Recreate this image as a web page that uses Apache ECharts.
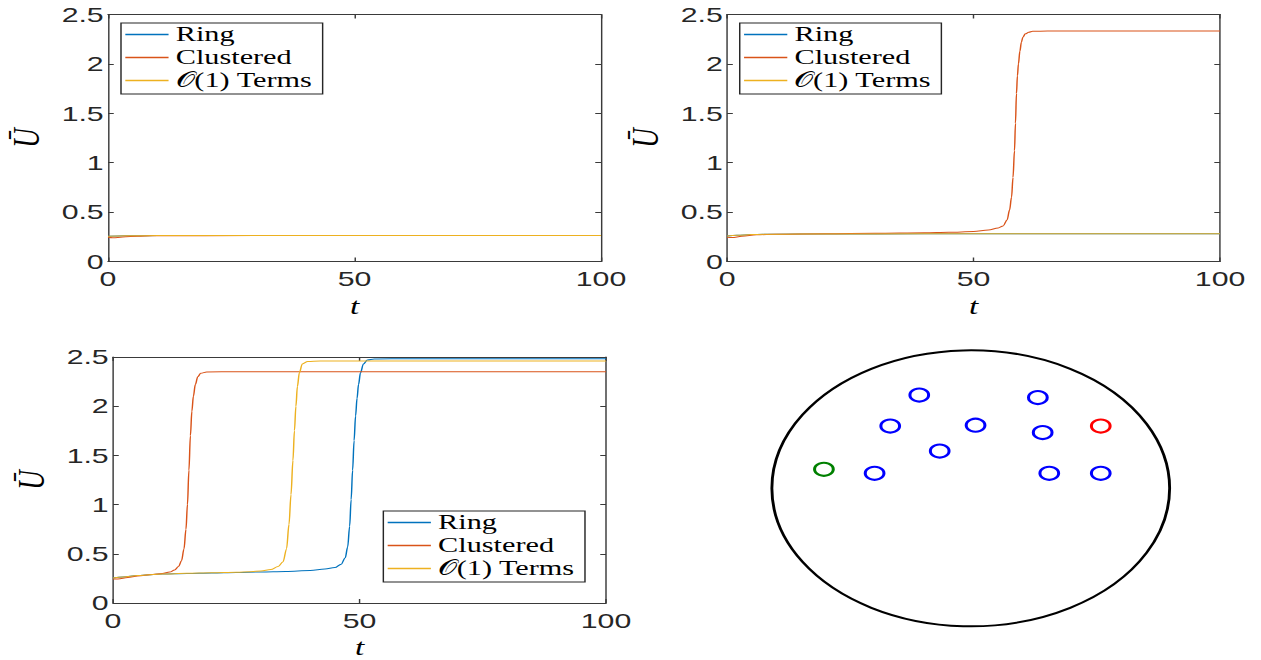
<!DOCTYPE html>
<html>
<head>
<meta charset="utf-8">
<script src="https://cdn.jsdelivr.net/npm/echarts@6/dist/echarts.min.js"></script>
<style>
html,body{margin:0;padding:0;background:#fff;overflow:hidden;width:1261px;height:660px;}
#chart{width:875px;height:660px;transform:scaleX(1.44114);transform-origin:0 0;}
</style>
</head>
<body>
<div id="chart"></div>
<script>
// ---------- data ----------
const SERIES_NAMES = ['Ring', 'Clustered', '𝒪(1) Terms'];
const X_TICKS = [0, 50, 100];
const Y_TICKS = [0, 0.5, 1, 1.5, 2, 2.5];

// Panel A (top-left)
const A_RING_T = [0, 2, 5, 10, 30, 60, 100];
const A_RING_U = [0.255, 0.258, 0.261, 0.262, 0.262, 0.262, 0.262];
const A_CLUS_T = [0, 1, 3, 6, 9, 30, 60, 100];
const A_CLUS_U = [0.245, 0.24, 0.248, 0.256, 0.26, 0.262, 0.262, 0.262];
const A_O1_T = [0, 2, 5, 10, 30, 60, 100];
const A_O1_U = [0.255, 0.258, 0.261, 0.262, 0.262, 0.262, 0.262];

// Panel B (top-right)
const B_RING_T = [0, 2, 5, 10, 20, 40, 70, 100];
const B_RING_U = [0.258, 0.265, 0.273, 0.277, 0.279, 0.28, 0.28, 0.28];
const B_CLUS_T = [0, 1, 3, 6, 10, 20, 30, 40, 45, 50, 53, 55, 56, 56.8, 57.3, 57.7, 58.0, 58.3, 58.5, 58.7, 58.9, 59.1, 59.4, 59.7, 60, 60.5, 61.2, 62, 65, 100];
const B_CLUS_U = [0.245, 0.243, 0.255, 0.27, 0.277, 0.281, 0.285, 0.29, 0.295, 0.304, 0.318, 0.34, 0.36, 0.42, 0.52, 0.65, 0.85, 1.12, 1.4, 1.7, 1.88, 2.0, 2.13, 2.22, 2.27, 2.305, 2.32, 2.33, 2.332, 2.332];
const B_O1_T = [0, 2, 5, 10, 20, 40, 70, 100];
const B_O1_U = [0.258, 0.265, 0.273, 0.277, 0.279, 0.28, 0.28, 0.28];

// Panel C (bottom-left)
const C_RING_T = [0, 2, 5, 10, 15, 20, 25, 30, 35, 40, 43, 45, 46.3, 47.1, 47.6, 48, 48.3, 48.6, 48.9, 49.2, 49.5, 49.8, 50.2, 50.8, 51.6, 53, 60, 100];
const C_RING_U = [0.255, 0.265, 0.28, 0.295, 0.30, 0.305, 0.31, 0.315, 0.32, 0.33, 0.345, 0.36, 0.395, 0.46, 0.57, 0.78, 1.05, 1.35, 1.65, 1.9, 2.08, 2.22, 2.34, 2.43, 2.47, 2.48, 2.483, 2.483];
const C_CLUS_T = [0, 1, 3, 5, 8, 10, 11.5, 12.5, 13.3, 13.9, 14.4, 14.8, 15.1, 15.4, 15.7, 16.0, 16.3, 16.7, 17.2, 17.8, 19, 25, 100];
const C_CLUS_U = [0.245, 0.245, 0.26, 0.275, 0.29, 0.30, 0.315, 0.335, 0.37, 0.43, 0.55, 0.75, 1.0, 1.35, 1.7, 1.95, 2.1, 2.22, 2.3, 2.335, 2.348, 2.35, 2.35];
const C_O1_T = [0, 2, 5, 10, 15, 20, 25, 28, 30, 32, 33.5, 34.5, 35.2, 35.7, 36.1, 36.5, 36.8, 37.1, 37.4, 37.8, 38.4, 39.5, 42, 100];
const C_O1_U = [0.255, 0.265, 0.28, 0.295, 0.302, 0.307, 0.312, 0.318, 0.325, 0.34, 0.37, 0.42, 0.55, 0.8, 1.1, 1.45, 1.75, 2.0, 2.2, 2.34, 2.43, 2.455, 2.46, 2.46];

// Panel D (bottom-right): trap positions in the unit disk
const DISK_CENTER = [[0, 0]];
const BLUE_X = [-0.480, -0.257, -0.402, -0.155, 0.024, 0.335, 0.359, 0.392, 0.649];
const BLUE_Y = [0.108, 0.671, 0.448, 0.268, 0.454, 0.653, 0.401, 0.108, 0.108];
const RED_X = [0.649];
const RED_Y = [0.448];
const GREEN_X = [-0.733];
const GREEN_Y = [0.137];

// ---------- styling ----------
const COLORS = ['#0072BD', '#D95319', '#EDB120'];
const AXIS_COLOR = '#3a3a3a';
const TICK_FONT = "'Liberation Sans', Arial, sans-serif";
const SERIF = "'Liberation Serif', 'DejaVu Serif', 'DejaVu Sans', serif";
const zip = (a, b) => a.map((v, i) => [v, b[i]]);

const grids = [
  {left: 74.94, top: 14.5, width: 342.1, height: 247},
  {left: 504.5, top: 14.5, width: 342.1, height: 247},
  {left: 78.41, top: 357, width: 342.1, height: 247},
  {left: 534.6, top: 349.3, width: 278, height: 278}
];

function xAxes(gi) {
  const base = {
    type: 'value', gridIndex: gi, min: X_TICKS[0], max: X_TICKS[X_TICKS.length - 1],
    interval: X_TICKS[1] - X_TICKS[0],
    axisLine: {show: true, onZero: false, lineStyle: {color: AXIS_COLOR, width: 1}},
    axisTick: {show: true, inside: true, length: 4, lineStyle: {color: AXIS_COLOR}},
    splitLine: {show: false}
  };
  return [
    Object.assign({}, base, {
      position: 'bottom',
      axisLabel: {show: true, color: '#262626', fontFamily: TICK_FONT, fontSize: 21, margin: 7},
      name: 't', nameLocation: 'middle', nameGap: 33,
      nameTextStyle: {fontFamily: SERIF, fontStyle: 'italic', fontSize: 23, color: '#000'}
    }),
    Object.assign({}, base, {position: 'top', axisLabel: {show: false}})
  ];
}
function yAxes(gi) {
  const base = {
    type: 'value', gridIndex: gi, min: Y_TICKS[0], max: Y_TICKS[Y_TICKS.length - 1],
    interval: Y_TICKS[1] - Y_TICKS[0],
    axisLine: {show: true, onZero: false, lineStyle: {color: AXIS_COLOR, width: 1}},
    axisTick: {show: true, inside: true, length: 4, lineStyle: {color: AXIS_COLOR}},
    splitLine: {show: false}
  };
  return [
    Object.assign({}, base, {
      position: 'left',
      axisLabel: {show: true, color: '#262626', fontFamily: TICK_FONT, fontSize: 21, margin: 3},
      name: 'Ū', nameLocation: 'middle', nameGap: 44, nameRotate: 90,
      nameTextStyle: {fontFamily: SERIF, fontStyle: 'italic', fontSize: 27, color: '#000'}
    }),
    Object.assign({}, base, {position: 'right', axisLabel: {show: false}})
  ];
}

const xAxis = [], yAxis = [];
for (let g = 0; g < 3; g++) { xAxis.push(...xAxes(g)); yAxis.push(...yAxes(g)); }
// disk axes (hidden)
xAxis.push({type: 'value', gridIndex: 3, min: -1, max: 1, show: false});
yAxis.push({type: 'value', gridIndex: 3, min: -1, max: 1, show: false});

const panels = [
  [[A_RING_T, A_RING_U], [A_CLUS_T, A_CLUS_U], [A_O1_T, A_O1_U]],
  [[B_RING_T, B_RING_U], [B_CLUS_T, B_CLUS_U], [B_O1_T, B_O1_U]],
  [[C_RING_T, C_RING_U], [C_CLUS_T, C_CLUS_U], [C_O1_T, C_O1_U]]
];

const series = [];
panels.forEach((p, gi) => {
  p.forEach((s, si) => {
    series.push({
      type: 'line', name: SERIES_NAMES[si],
      xAxisIndex: gi * 2, yAxisIndex: gi * 2,
      data: zip(s[0], s[1]),
      showSymbol: false, symbol: 'none',
      smooth: 0.35, smoothMonotone: 'x',
      lineStyle: {color: COLORS[si], width: 1},
      itemStyle: {color: COLORS[si]},
      silent: true
    });
  });
});

function traps(xs, ys, color) {
  return {
    type: 'scatter', xAxisIndex: 6, yAxisIndex: 6,
    data: zip(xs, ys), symbol: 'circle', symbolSize: 13, silent: true,
    itemStyle: {color: 'rgba(255,255,255,0)', borderColor: color, borderWidth: 2.1, opacity: 1}
  };
}
series.push({
  type: 'scatter', xAxisIndex: 6, yAxisIndex: 6, data: DISK_CENTER,
  symbol: 'circle', symbolSize: 276, silent: true,
  itemStyle: {color: 'rgba(255,255,255,0)', borderColor: '#000', borderWidth: 2, opacity: 1}
});
series.push(traps(BLUE_X, BLUE_Y, '#0000ff'));
series.push(traps(RED_X, RED_Y, '#ff0000'));
series.push(traps(GREEN_X, GREEN_Y, '#008000'));

function legend(left, top) {
  return {
    data: SERIES_NAMES.map((n, i) => ({name: n, icon: 'rect', itemStyle: {color: COLORS[i]}})),
    orient: 'vertical', left: left, top: top,
    itemWidth: 30, itemHeight: 1.3, itemGap: 0,
    padding: [0, 7, 2, 3], borderColor: '#262626', borderWidth: 1, backgroundColor: '#fff',
    selectedMode: false,
    textStyle: {fontFamily: SERIF, fontSize: 21, lineHeight: 23, color: '#000'}
  };
}

const chart = echarts.init(document.getElementById('chart'), null, {renderer: 'svg'});
chart.setOption({
  animation: false,
  backgroundColor: '#fff',
  grid: grids,
  xAxis: xAxis,
  yAxis: yAxis,
  legend: [legend(83.96, 23), legend(513.3, 23), legend(266.0, 511)],
  series: series
});
</script>
</body>
</html>
